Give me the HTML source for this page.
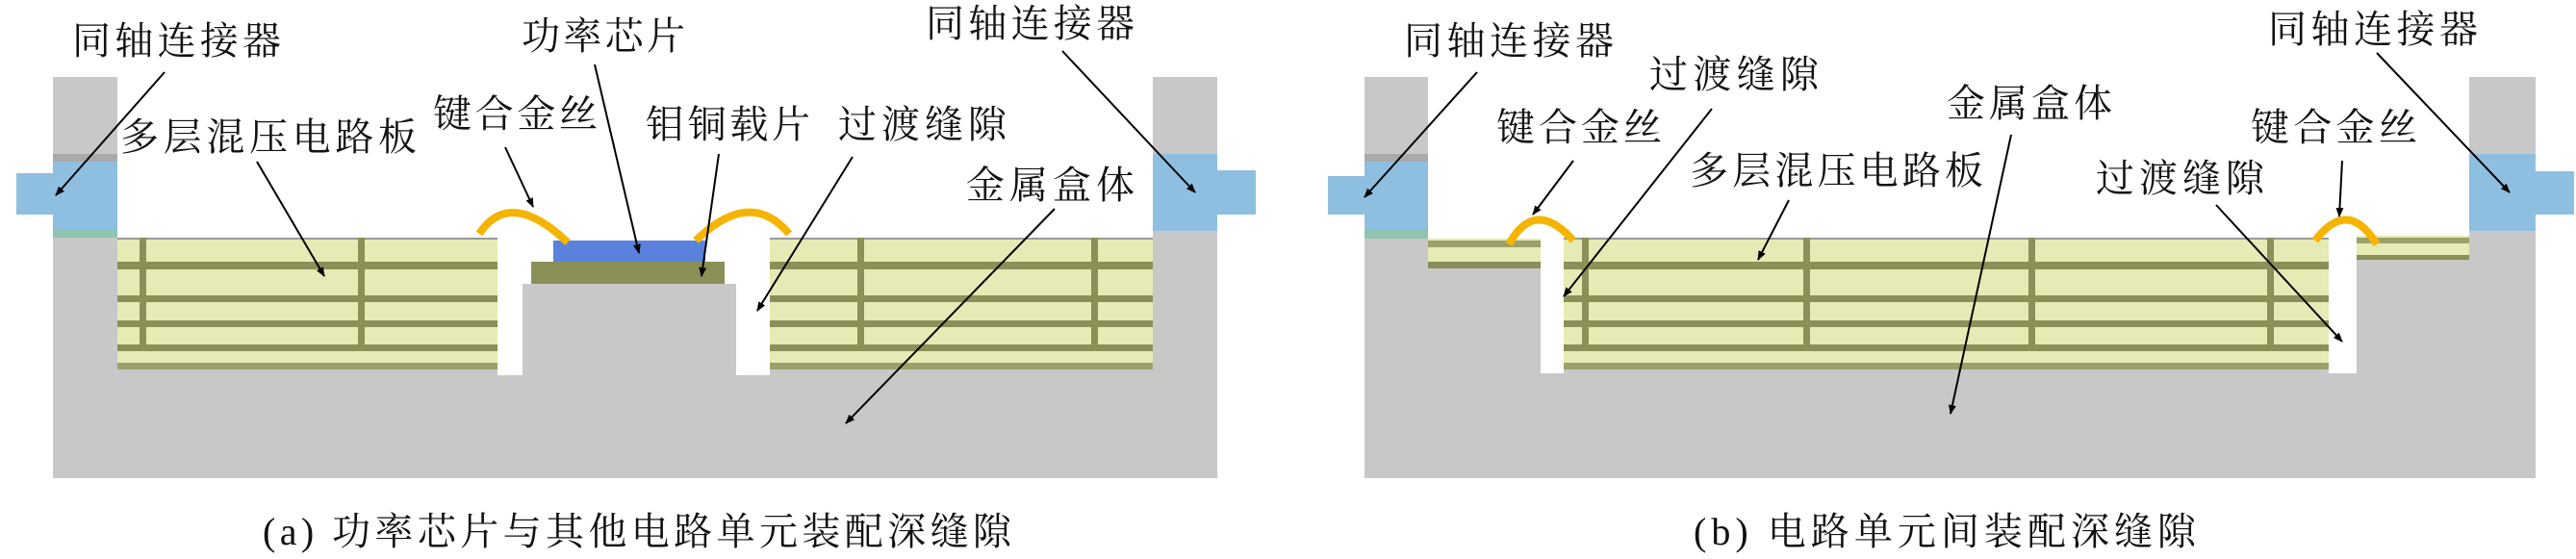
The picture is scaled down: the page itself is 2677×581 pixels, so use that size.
<!DOCTYPE html>
<html><head><meta charset="utf-8"><style>
html,body{margin:0;padding:0;background:#fff;}
svg{display:block;}
text{font-family:"Liberation Serif","Noto Serif CJK SC",serif;font-size:40px;fill:#111;}
</style></head><body>
<svg width="2677" height="581" viewBox="0 0 2677 581" xmlns="http://www.w3.org/2000/svg">
<defs>
<marker id="ar" markerWidth="10" markerHeight="8" refX="9" refY="4" orient="auto" markerUnits="userSpaceOnUse">
<path d="M0,0 L10,4 L0,8 z" fill="#000"/></marker>
<pattern id="pcbA" x="0" y="247" width="10" height="137" patternUnits="userSpaceOnUse">
<rect width="10" height="137" fill="#e6eab4"/>
<rect y="0" width="10" height="2" fill="#999"/>
<rect y="25" width="10" height="8" fill="#8b8f58"/>
<rect y="60" width="10" height="7" fill="#8b8f58"/>
<rect y="86" width="10" height="7" fill="#8b8f58"/>
<rect y="111" width="10" height="7" fill="#8b8f58"/>
<rect y="130" width="10" height="7" fill="#9da06a"/>
</pattern>
</defs>

<!-- ===== Panel a ===== -->
<rect x="55" y="80" width="1210" height="417" fill="#c8c8c8"/>
<rect x="122" y="80" width="1076" height="167" fill="#fff"/>
<!-- connectors -->
<rect x="55" y="160" width="67" height="8" fill="#aaa"/>
<rect x="55" y="168" width="67" height="70" fill="#8fbfe0"/>
<rect x="17" y="180" width="38" height="43" fill="#8fbfe0"/>
<rect x="55" y="238" width="67" height="9" fill="#8fc4b0"/>
<rect x="1198" y="160" width="67" height="80" fill="#8fbfe0"/>
<rect x="1265" y="177" width="40" height="46" fill="#8fbfe0"/>
<!-- PCBs -->
<rect x="122" y="247" width="395" height="137" fill="url(#pcbA)"/>
<rect x="800" y="247" width="398" height="137" fill="url(#pcbA)"/>
<g fill="#8b8f58">
<rect x="145" y="247" width="7" height="113"/><rect x="372" y="247" width="7" height="113"/>
<rect x="891" y="247" width="7" height="113"/><rect x="1134" y="247" width="7" height="113"/>
</g>
<!-- gaps -->
<rect x="517" y="247" width="26" height="143" fill="#fff"/>
<rect x="765" y="247" width="35" height="143" fill="#fff"/>
<rect x="543" y="247" width="222" height="48" fill="#fff"/>
<rect x="552" y="272" width="201" height="23" fill="#8b8f58"/>
<rect x="575" y="250" width="158" height="22" fill="#5a82dc"/>
<!-- wires -->
<path d="M498,243 Q530,195 590,252" fill="none" stroke="#f5b400" stroke-width="8"/>
<path d="M723,250 Q780,195 820,243" fill="none" stroke="#f5b400" stroke-width="8"/>
<!-- labels a -->
<text x="75" y="56" textLength="217">同轴连接器</text>
<text x="542" y="51" textLength="170">功率芯片</text>
<text x="962" y="38" textLength="217">同轴连接器</text>
<text x="450" y="132" textLength="171">键合金丝</text>
<text x="125" y="156" textLength="308">多层混压电路板</text>
<text x="671" y="143" textLength="171">钼铜载片</text>
<text x="871" y="143" textLength="175">过渡缝隙</text>
<text x="1004" y="206" textLength="175">金属盒体</text>
<g stroke="#000" stroke-width="2" marker-end="url(#ar)">
<line x1="171" y1="75" x2="58" y2="203"/>
<line x1="618" y1="67" x2="664" y2="263"/>
<line x1="1104" y1="53" x2="1242" y2="200"/>
<line x1="525" y1="153" x2="554" y2="215"/>
<line x1="267" y1="168" x2="337" y2="287"/>
<line x1="747" y1="160" x2="729" y2="287"/>
<line x1="886" y1="163" x2="787" y2="323"/>
<line x1="1096" y1="217" x2="879" y2="440"/>
</g>

<!-- ===== Panel b ===== -->
<rect x="1418" y="80" width="1217" height="417" fill="#c8c8c8"/>
<rect x="1484" y="80" width="1082" height="168" fill="#fff"/>
<rect x="1418" y="160" width="66" height="8" fill="#aaa"/>
<rect x="1418" y="168" width="66" height="70" fill="#8fbfe0"/>
<rect x="1380" y="183" width="38" height="40" fill="#8fbfe0"/>
<rect x="1418" y="238" width="66" height="10" fill="#8fc4b0"/>
<rect x="2566" y="160" width="69" height="80" fill="#8fbfe0"/>
<rect x="2635" y="178" width="40" height="45" fill="#8fbfe0"/>
<!-- small pcbs -->
<rect x="1484" y="248" width="117" height="31" fill="#e6eab4"/>
<rect x="1484" y="250" width="117" height="7" fill="#9da06a"/>
<rect x="1484" y="272" width="117" height="7" fill="#8b8f58"/>
<rect x="2449" y="245" width="117" height="25" fill="#e6eab4"/>
<rect x="2449" y="247" width="117" height="6" fill="#9da06a"/>
<rect x="2449" y="265" width="117" height="5" fill="#8b8f58"/>
<!-- main pcb -->
<rect x="1625" y="247" width="795" height="137" fill="url(#pcbA)"/>
<g fill="#8b8f58">
<rect x="1644" y="247" width="7" height="113"/><rect x="1874" y="247" width="7" height="113"/>
<rect x="2108" y="247" width="7" height="113"/><rect x="2356" y="247" width="7" height="113"/>
</g>
<rect x="1601" y="248" width="24" height="140" fill="#fff"/>
<rect x="2420" y="248" width="29" height="140" fill="#fff"/>
<path d="M1568,254 Q1595,205 1635,250" fill="none" stroke="#f5b400" stroke-width="8"/>
<path d="M2406,250 Q2440,205 2470,254" fill="none" stroke="#f5b400" stroke-width="8"/>
<text x="1459" y="56" textLength="218">同轴连接器</text>
<text x="1714" y="91" textLength="176">过渡缝隙</text>
<text x="2023" y="121" textLength="172">金属盒体</text>
<text x="2357" y="44" textLength="218">同轴连接器</text>
<text x="1555" y="146" textLength="172">键合金丝</text>
<text x="1756" y="191" textLength="305">多层混压电路板</text>
<text x="2339" y="146" textLength="173">键合金丝</text>
<text x="2178" y="199" textLength="175">过渡缝隙</text>
<g stroke="#000" stroke-width="2" marker-end="url(#ar)">
<line x1="1535" y1="75" x2="1418" y2="205"/>
<line x1="1779" y1="113" x2="1625" y2="308"/>
<line x1="2090" y1="140" x2="2027" y2="430"/>
<line x1="2470" y1="55" x2="2608" y2="200"/>
<line x1="1635" y1="167" x2="1593" y2="223"/>
<line x1="1859" y1="208" x2="1827" y2="270"/>
<line x1="2434" y1="167" x2="2431" y2="225"/>
<line x1="2303" y1="213" x2="2434" y2="355"/>
</g>

<!-- captions -->
<text x="273" y="566" textLength="778">(a) 功率芯片与其他电路单元装配深缝隙</text>
<text x="1760" y="566" textLength="522">(b) 电路单元间装配深缝隙</text>
</svg>
</body></html>
